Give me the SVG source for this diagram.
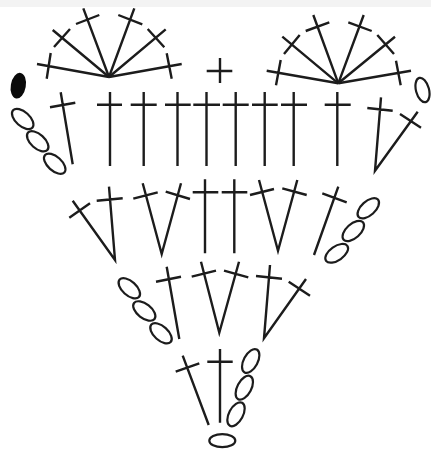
<svg xmlns="http://www.w3.org/2000/svg" width="431" height="449" viewBox="0 0 431 449">
<style>
.s{fill:none;stroke:#1c1c1c;stroke-width:2.4;stroke-linecap:butt;stroke-linejoin:miter}
.o{fill:#fff;stroke:#1c1c1c;stroke-width:2.2}
.b{fill:#0a0a0a;stroke:none}
</style>
<rect width="431" height="449" fill="#fff"/>
<rect width="431" height="7" fill="#f3f3f3"/>
<g id="fan-left" class="s">
<path d="M109 77L37 64M50.7 53L46.7 78.7"/>
<path d="M109 77L52.7 30M70 29L54 47"/>
<path d="M109 77L83.3 8.3M76 24L99.3 15"/>
<path d="M109 77L134.3 8.3M118.3 15L142.3 24.3"/>
<path d="M109 77L165.7 29.3M147.7 29L164.3 47.3"/>
<path d="M109 77L181.7 64M166.7 53.3L171.7 78.7"/>
</g>
<g id="fan-right" class="s">
<path d="M338.3 83.3L266.7 70.7M280.7 60L276 85.3"/>
<path d="M338.3 83.3L282.3 36.7M299.7 35L284 54"/>
<path d="M338.3 83.3L313.3 15M305.7 31L329.3 22.3"/>
<path d="M338.3 83.3L363.7 15M348.3 22.3L371.7 31"/>
<path d="M338.3 83.3L395 36.7M377.3 35L394 54"/>
<path d="M338.3 83.3L411 70.7M396 60.7L400.7 85.3"/>
</g>
<g id="plus" class="s"><path d="M220 58V83M206.7 71H232.3"/></g>
<g id="row-2" class="s">
<path d="M60.7 92.3L72.7 164.3M50 107.3L75.3 102.7"/>
<path d="M110 92V166M97 104.7H122"/>
<path d="M143.7 92V166M130.7 104.7H156.7"/>
<path d="M177.5 92V166M165 104.7H190.7"/>
<path d="M206.5 92V166M193.3 104.7H220"/>
<path d="M235.7 92V166M222.7 104.7H248.7"/>
<path d="M264.7 92V166M252 104.7H277.7"/>
<path d="M293.7 92V166M281 104.7H307"/>
<path d="M337.3 92V166M324.7 104.7H350.7"/>
<path d="M381 97.3L375 170.7L417.7 111.7M367.3 108L392.7 110.7M400 114L421 127.7"/>
</g>
<g id="row-3" class="s">
<path d="M72.7 200.7L115 260L109 186.7M69.3 217.7L90 203.3M96.7 200.7L122.7 198.3"/>
<path d="M142.7 183.3L161.7 254L181 183.3M133.3 198.7L157.7 192.3M165.7 191.7L190 199"/>
<path d="M205 179.3V253.3M192.7 192.3H218.3"/>
<path d="M234.3 179.3V253.3M221.7 192.3H247.3"/>
<path d="M259 180L278 250.7L297.3 180M250 195L274 189M282.3 188.3L306.7 195"/>
<path d="M338.3 186.7L314 255M322.3 193.3L346.7 202.3"/>
</g>
<g id="row-4" class="s">
<path d="M166.7 266.7L179.3 339M156 281.7L181 276.7"/>
<path d="M201 261.7L219.3 332.7L239 261.7M191.7 276.7L216 270.7M224 270.7L248.3 277.3"/>
<path d="M270 265L264 338.3L306 279M256 276L282 278.7M288.7 281.7L310 295.7"/>
</g>
<g id="row-5" class="s">
<path d="M182.7 355.7L208.7 425M175.7 371.7L199.3 363.3"/>
<path d="M220 349V422.7M207.3 361.7H232.7"/>
</g>
<g id="ovals">
<ellipse class="b" cx="18.3" cy="85.7" rx="7.5" ry="13" transform="rotate(10 18.3 85.7)"/>
<ellipse class="o" cx="22.7" cy="119" rx="13" ry="7" transform="rotate(42 22.7 119)"/>
<ellipse class="o" cx="37.7" cy="141.3" rx="13" ry="7" transform="rotate(42 37.7 141.3)"/>
<ellipse class="o" cx="54.7" cy="163.7" rx="13" ry="7" transform="rotate(42 54.7 163.7)"/>
<ellipse class="o" cx="422.5" cy="90" rx="12.5" ry="6.5" transform="rotate(75 422.5 90)"/>
<ellipse class="o" cx="368.3" cy="208.3" rx="13" ry="7" transform="rotate(-42 368.3 208.3)"/>
<ellipse class="o" cx="353.3" cy="231" rx="13" ry="7" transform="rotate(-42 353.3 231)"/>
<ellipse class="o" cx="336.7" cy="253.3" rx="13" ry="7" transform="rotate(-35 336.7 253.3)"/>
<ellipse class="o" cx="129.3" cy="288.3" rx="13" ry="7" transform="rotate(42 129.3 288.3)"/>
<ellipse class="o" cx="144.3" cy="311" rx="13" ry="7" transform="rotate(38 144.3 311)"/>
<ellipse class="o" cx="161" cy="333.3" rx="13" ry="7" transform="rotate(42 161 333.3)"/>
<ellipse class="o" cx="250.7" cy="361" rx="13" ry="7" transform="rotate(-62 250.7 361)"/>
<ellipse class="o" cx="244.3" cy="387.7" rx="13" ry="7" transform="rotate(-62 244.3 387.7)"/>
<ellipse class="o" cx="236" cy="414.3" rx="13" ry="7" transform="rotate(-62 236 414.3)"/>
<ellipse class="o" cx="222.3" cy="440.7" rx="13" ry="6.5"/>
</g>
</svg>
